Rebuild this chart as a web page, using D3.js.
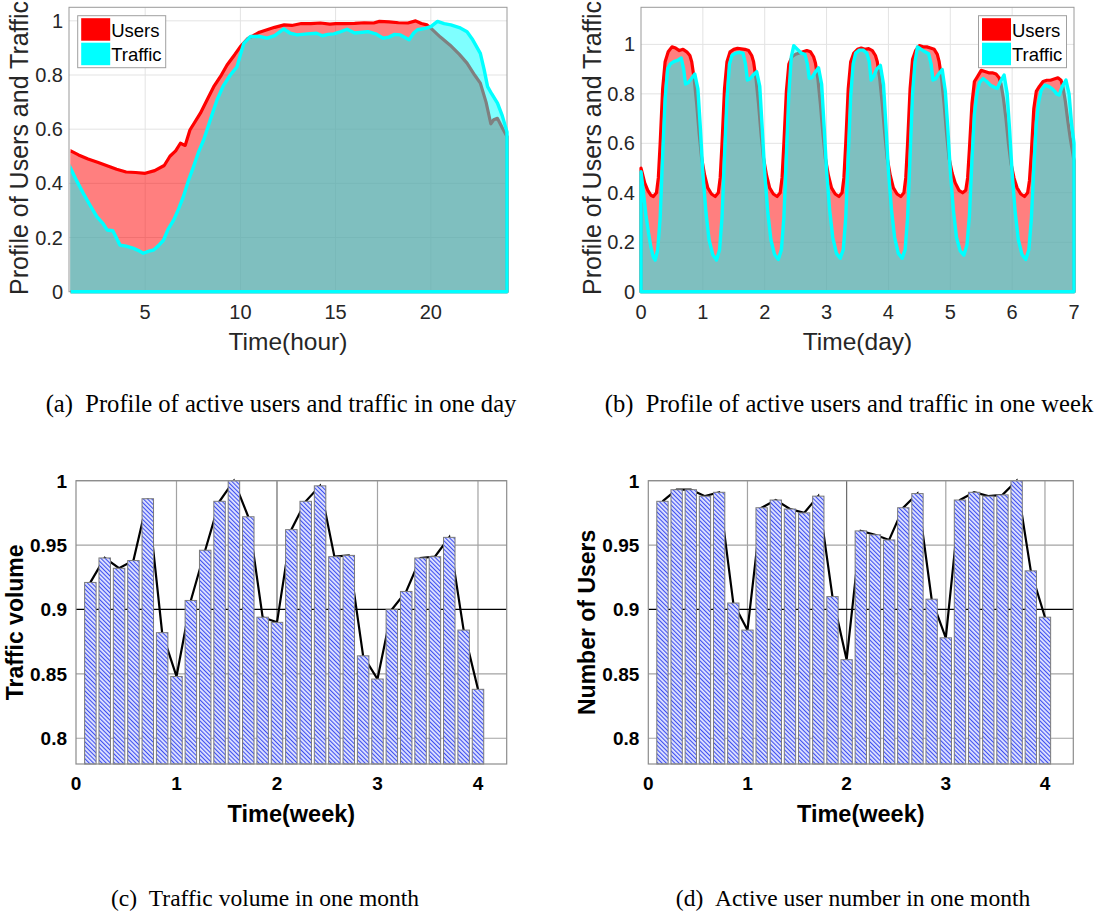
<!DOCTYPE html>
<html lang="en">
<head>
  <meta charset="UTF-8">
  <title>Profile of active users and traffic</title>
  <script src="https://d3js.org/d3.v7.min.js"></script>
  <style>
    html, body {
      margin: 0;
      background: #fff;
    }
    svg {
      display: block;
    }
    .tick-label {
      font-family: "Liberation Sans", Arial, sans-serif;
      fill: #262626;
    }
    .caption {
      font-family: "Liberation Serif", "Times New Roman", serif;
      fill: #000;
    }
  </style>
</head>
<body>
  <div id="figure"></div>

  <script>
    // (a) one day, [hour, value]
    const usersDay = [
      [1, 0.523], [1.5, 0.505], [2, 0.49], [2.5, 0.478], [3, 0.465], [3.5, 0.452], [4, 0.442], [4.5, 0.44],
      [5, 0.437], [5.5, 0.447], [6, 0.466], [6.3, 0.5], [6.6, 0.52], [6.85, 0.548], [7.1, 0.54], [7.35, 0.597],
      [7.9, 0.659], [8.3, 0.715], [8.6, 0.757], [9, 0.8], [9.3, 0.837], [9.7, 0.875], [10, 0.905], [10.4, 0.935],
      [10.7, 0.946], [11, 0.958], [11.4, 0.967], [11.8, 0.976], [12.3, 0.985], [12.7, 0.983], [13.2, 0.99],
      [13.7, 0.99], [14.2, 0.992], [14.7, 0.988], [15, 0.99], [15.5, 0.99], [16, 0.991], [16.5, 0.993], [17, 0.992],
      [17.3, 0.998], [17.8, 0.996], [18.3, 0.993], [18.8, 0.992], [19.2, 1.0], [19.5, 0.99], [19.8, 0.985],
      [20, 0.973], [20.5, 0.94], [21, 0.911], [21.5, 0.876], [21.9, 0.844], [22.3, 0.8], [22.6, 0.77], [22.9, 0.7],
      [23.15, 0.62], [23.3, 0.635], [23.5, 0.64], [23.75, 0.605], [24, 0.573]
    ];
    const trafficDay = [
      [1, 0.468], [1.4, 0.41], [1.75, 0.363], [2.1, 0.32], [2.46, 0.277], [2.8, 0.25], [3, 0.228], [3.3, 0.225],
      [3.68, 0.172], [4, 0.168], [4.39, 0.16], [4.7, 0.15], [4.9, 0.142], [5.2, 0.15], [5.44, 0.154], [5.7, 0.17],
      [5.96, 0.19], [6.2, 0.23], [6.5, 0.265], [6.75, 0.305], [7, 0.35], [7.27, 0.41], [7.54, 0.462], [7.8, 0.515],
      [8.07, 0.56], [8.4, 0.63], [8.77, 0.708], [9.1, 0.76], [9.47, 0.8], [9.82, 0.83], [10, 0.875], [10.18, 0.917],
      [10.53, 0.942], [11, 0.943], [11.4, 0.936], [11.8, 0.945], [12.28, 0.97], [12.6, 0.955], [12.98, 0.948],
      [13.5, 0.952], [14, 0.954], [14.3, 0.945], [14.6, 0.95], [14.9, 0.952], [15.2, 0.958], [15.6, 0.969],
      [16, 0.955], [16.4, 0.958], [16.7, 0.96], [17.1, 0.952], [17.5, 0.936], [17.8, 0.94], [18.1, 0.95],
      [18.4, 0.948], [18.86, 0.93], [19.1, 0.955], [19.3, 0.967], [19.7, 0.972], [20, 0.979], [20.35, 0.998],
      [20.7, 0.99], [21.05, 0.985], [21.5, 0.975], [21.9, 0.96], [22.2, 0.93], [22.6, 0.88], [22.8, 0.82],
      [22.98, 0.757], [23.2, 0.73], [23.5, 0.696], [23.75, 0.65], [24, 0.59]
    ];

    // (b) one week, [day, value]
    const usersWeek = [
      [0.00, 0.50], [0.02, 0.48], [0.06, 0.44], [0.11, 0.41], [0.16, 0.39], [0.20, 0.385], [0.25, 0.40], [0.28, 0.46], [0.31, 0.60], [0.35, 0.82], [0.39, 0.93], [0.44, 0.97], [0.50, 0.99], [0.56, 0.985], [0.62, 0.975], [0.68, 0.98], [0.74, 0.97], [0.79, 0.955], [0.82, 0.93], [0.86, 0.86], [0.90, 0.76], [0.94, 0.64], [0.98, 0.54],
      [1.03, 0.47], [1.08, 0.42], [1.14, 0.395], [1.20, 0.385], [1.25, 0.40], [1.28, 0.46], [1.31, 0.60], [1.35, 0.82], [1.39, 0.93], [1.44, 0.97], [1.50, 0.98], [1.56, 0.984], [1.62, 0.982], [1.68, 0.98], [1.74, 0.975], [1.79, 0.955], [1.82, 0.93], [1.86, 0.86], [1.90, 0.76], [1.94, 0.64], [1.98, 0.54],
      [2.03, 0.47], [2.08, 0.42], [2.14, 0.395], [2.20, 0.385], [2.25, 0.40], [2.28, 0.46], [2.31, 0.60], [2.35, 0.81], [2.39, 0.92], [2.44, 0.95], [2.50, 0.96], [2.56, 0.965], [2.62, 0.97], [2.68, 0.975], [2.74, 0.97], [2.79, 0.95], [2.82, 0.925], [2.86, 0.86], [2.90, 0.76], [2.94, 0.64], [2.98, 0.54],
      [3.03, 0.47], [3.08, 0.42], [3.14, 0.395], [3.20, 0.385], [3.25, 0.40], [3.28, 0.46], [3.31, 0.60], [3.35, 0.82], [3.39, 0.93], [3.44, 0.965], [3.50, 0.98], [3.56, 0.985], [3.62, 0.98], [3.68, 0.983], [3.74, 0.975], [3.79, 0.955], [3.82, 0.93], [3.86, 0.86], [3.90, 0.76], [3.94, 0.64], [3.98, 0.54],
      [4.03, 0.47], [4.08, 0.42], [4.14, 0.395], [4.20, 0.385], [4.25, 0.40], [4.28, 0.46], [4.31, 0.60], [4.35, 0.82], [4.39, 0.94], [4.44, 0.975], [4.50, 0.995], [4.56, 0.99], [4.62, 0.99], [4.68, 0.985], [4.74, 0.98], [4.79, 0.96], [4.82, 0.93], [4.86, 0.86], [4.90, 0.76], [4.94, 0.64], [4.98, 0.54],
      [5.03, 0.48], [5.08, 0.44], [5.14, 0.41], [5.20, 0.40], [5.25, 0.41], [5.28, 0.46], [5.31, 0.58], [5.35, 0.76], [5.39, 0.85], [5.44, 0.87], [5.50, 0.895], [5.56, 0.89], [5.62, 0.885], [5.68, 0.885], [5.74, 0.88], [5.79, 0.865], [5.82, 0.84], [5.86, 0.78], [5.90, 0.70], [5.94, 0.60], [5.98, 0.52],
      [6.03, 0.46], [6.08, 0.42], [6.14, 0.395], [6.20, 0.385], [6.25, 0.40], [6.28, 0.45], [6.31, 0.56], [6.35, 0.74], [6.39, 0.81], [6.44, 0.83], [6.50, 0.85], [6.56, 0.855], [6.62, 0.855], [6.68, 0.86], [6.74, 0.865], [6.79, 0.855], [6.82, 0.83], [6.86, 0.77], [6.90, 0.69], [6.94, 0.62], [6.98, 0.56], [7.00, 0.53]
    ];
    const trafficWeek = [
      [0.00, 0.485], [0.04, 0.40], [0.08, 0.31], [0.12, 0.24], [0.16, 0.18], [0.20, 0.14], [0.23, 0.128], [0.27, 0.17], [0.31, 0.30], [0.35, 0.55], [0.39, 0.78], [0.43, 0.90], [0.47, 0.92], [0.53, 0.93], [0.59, 0.935], [0.65, 0.945], [0.69, 0.90], [0.72, 0.84], [0.76, 0.845], [0.81, 0.86], [0.87, 0.88], [0.92, 0.82], [0.96, 0.66],
      [1.00, 0.48], [1.05, 0.32], [1.10, 0.21], [1.16, 0.15], [1.22, 0.128], [1.27, 0.17], [1.31, 0.30], [1.35, 0.55], [1.39, 0.78], [1.43, 0.92], [1.47, 0.955], [1.53, 0.965], [1.59, 0.968], [1.65, 0.965], [1.69, 0.92], [1.72, 0.856], [1.76, 0.86], [1.81, 0.875], [1.87, 0.89], [1.92, 0.83], [1.96, 0.66],
      [2.00, 0.48], [2.05, 0.32], [2.10, 0.21], [2.16, 0.15], [2.22, 0.13], [2.27, 0.17], [2.31, 0.30], [2.35, 0.55], [2.39, 0.80], [2.43, 0.95], [2.47, 0.995], [2.53, 0.98], [2.59, 0.965], [2.65, 0.96], [2.69, 0.92], [2.72, 0.863], [2.76, 0.865], [2.81, 0.885], [2.87, 0.905], [2.92, 0.84], [2.96, 0.67],
      [3.00, 0.49], [3.05, 0.33], [3.10, 0.22], [3.16, 0.155], [3.22, 0.135], [3.27, 0.17], [3.31, 0.30], [3.35, 0.55], [3.39, 0.79], [3.43, 0.92], [3.47, 0.965], [3.53, 0.977], [3.59, 0.977], [3.65, 0.965], [3.69, 0.93], [3.72, 0.856], [3.76, 0.87], [3.81, 0.90], [3.87, 0.915], [3.92, 0.84], [3.96, 0.67],
      [4.00, 0.49], [4.05, 0.33], [4.10, 0.22], [4.16, 0.155], [4.22, 0.135], [4.27, 0.17], [4.31, 0.30], [4.35, 0.55], [4.39, 0.80], [4.43, 0.93], [4.47, 0.99], [4.53, 0.98], [4.59, 0.97], [4.65, 0.962], [4.69, 0.92], [4.72, 0.856], [4.76, 0.86], [4.81, 0.88], [4.87, 0.898], [4.92, 0.81], [4.96, 0.66],
      [5.00, 0.49], [5.05, 0.33], [5.10, 0.22], [5.16, 0.165], [5.22, 0.148], [5.27, 0.19], [5.31, 0.31], [5.35, 0.53], [5.39, 0.72], [5.43, 0.80], [5.47, 0.845], [5.53, 0.862], [5.59, 0.85], [5.65, 0.835], [5.69, 0.83], [5.72, 0.825], [5.76, 0.822], [5.81, 0.85], [5.87, 0.876], [5.92, 0.80], [5.96, 0.65],
      [6.00, 0.48], [6.05, 0.32], [6.10, 0.21], [6.16, 0.15], [6.22, 0.13], [6.27, 0.17], [6.31, 0.29], [6.35, 0.50], [6.39, 0.68], [6.43, 0.77], [6.47, 0.815], [6.53, 0.835], [6.59, 0.83], [6.65, 0.82], [6.69, 0.81], [6.72, 0.80], [6.76, 0.795], [6.81, 0.83], [6.87, 0.856], [6.92, 0.80], [6.96, 0.68], [7.00, 0.60]
    ];

    // (c), (d) one month: one bar per day, 28 days
    const trafficMonth = [
      0.921, 0.940, 0.932, 0.938, 0.986, 0.882, 0.848,
      0.907, 0.946, 0.984, 1.000, 0.972, 0.894, 0.890,
      0.962, 0.984, 0.996, 0.941, 0.942, 0.864, 0.846,
      0.900, 0.914, 0.940, 0.941, 0.956, 0.884, 0.838
    ];
    const usersMonth = [
      0.984, 0.993, 0.993, 0.988, 0.991, 0.905, 0.884,
      0.979, 0.985, 0.978, 0.975, 0.988, 0.910, 0.861,
      0.961, 0.958, 0.954, 0.979, 0.990, 0.908, 0.878,
      0.985, 0.991, 0.988, 0.989, 1.000, 0.930, 0.894
    ];

    const hourTicks = [5, 10, 15, 20];
    const dayTicks = [0, 1, 2, 3, 4, 5, 6, 7];
    const profileTicks = [0, 0.2, 0.4, 0.6, 0.8, 1];
    const weekTicks = [0, 1, 2, 3, 4];
    const monthTicks = [0.8, 0.85, 0.9, 0.95, 1];
    const legendLabels = ["Users", "Traffic"];

    const svg = d3.select("#figure")
      .append("svg")
      .attr("width", 1099)
      .attr("height", 913);

    svg.append("rect").attr("width", 1099).attr("height", 913).attr("fill", "#fff");

    // hatch used by the bar charts
    const defs = svg.append("defs");
    const hatch = defs.append("pattern")
      .attr("id", "hatch")
      .attr("patternUnits", "userSpaceOnUse")
      .attr("width", 3)
      .attr("height", 3)
      .attr("patternTransform", "rotate(-45)");
    hatch.append("rect").attr("width", 3).attr("height", 3).attr("fill", "#e2e5ff");
    hatch.append("rect").attr("width", 1.1).attr("height", 3).attr("fill", "#3d4ff0");

    function drawProfile(cfg) {
      const g = svg.append("g");
      const x = d3.scaleLinear().domain(cfg.xDomain).range([cfg.left, cfg.right]);
      const y = d3.scaleLinear().domain(cfg.yDomain).range([cfg.bottom, cfg.top]);

      // grid
      g.selectAll(null)
        .data(cfg.xTicks.filter(t => t > cfg.xDomain[0] && t < cfg.xDomain[1]))
        .join("line")
        .attr("x1", d => x(d)).attr("x2", d => x(d))
        .attr("y1", cfg.top).attr("y2", cfg.bottom)
        .attr("stroke", "#e3e3e3");
      g.selectAll(null)
        .data(profileTicks.filter(t => t > 0))
        .join("line")
        .attr("x1", cfg.left).attr("x2", cfg.right)
        .attr("y1", d => y(d)).attr("y2", d => y(d))
        .attr("stroke", "#e3e3e3");

      // box
      g.append("rect")
        .attr("x", cfg.left).attr("y", cfg.top)
        .attr("width", cfg.right - cfg.left).attr("height", cfg.bottom - cfg.top)
        .attr("fill", "none").attr("stroke", "#9a9a9a");

      if (cfg.clipLeft) {
        defs.append("clipPath").attr("id", cfg.id + "-clip")
          .append("rect")
          .attr("x", cfg.left + 1.6).attr("y", 0)
          .attr("width", cfg.right - cfg.left + 10).attr("height", cfg.bottom + 10);
      }
      const plot = g.append("g");
      if (cfg.clipLeft) plot.attr("clip-path", `url(#${cfg.id}-clip)`);

      const area = d3.area()
        .x(d => x(d[0]))
        .y0(y(0))
        .y1(d => y(d[1]));

      plot.append("path")
        .datum(cfg.users)
        .attr("d", area)
        .attr("fill", "rgba(255,0,0,0.5)")
        .attr("stroke", "#ff0000")
        .attr("stroke-width", 3.2)
        .attr("stroke-linejoin", "round");

      plot.append("path")
        .datum(cfg.traffic)
        .attr("d", area)
        .attr("fill", "rgba(0,255,255,0.5)")
        .attr("stroke", "#00ffff")
        .attr("stroke-width", 3.4)
        .attr("stroke-linejoin", "round");

      // tick labels
      g.selectAll(null)
        .data(cfg.xTicks)
        .join("text")
        .attr("class", "tick-label")
        .attr("x", d => x(d))
        .attr("y", cfg.bottom + 27)
        .attr("text-anchor", "middle")
        .style("font-size", "20px")
        .text(d => d);
      g.selectAll(null)
        .data(profileTicks)
        .join("text")
        .attr("class", "tick-label")
        .attr("x", cfg.left - 6)
        .attr("y", d => y(d) + 7)
        .attr("text-anchor", "end")
        .style("font-size", "20px")
        .text(d => d);

      // axis labels
      g.append("text")
        .attr("class", "tick-label")
        .attr("x", (cfg.left + cfg.right) / 2)
        .attr("y", 350)
        .attr("text-anchor", "middle")
        .style("font-size", "24.5px")
        .text(cfg.xLabel);
      g.append("text")
        .attr("class", "tick-label")
        .attr("transform", `translate(${cfg.yLabelX},295) rotate(-90)`)
        .attr("text-anchor", "start")
        .style("font-size", "25px")
        .text("Profile of Users and Traffic");

      // legend
      const lg = g.append("g").attr("transform", `translate(${cfg.legendX},15.7)`);
      lg.append("rect")
        .attr("width", 88).attr("height", 52)
        .attr("fill", "#fff").attr("stroke", "#a0a0a0");
      lg.selectAll(null)
        .data(legendLabels)
        .join("rect")
        .attr("x", 3.5).attr("y", (d, i) => 2.5 + i * 24.5)
        .attr("width", 29).attr("height", 22.5)
        .attr("fill", (d, i) => i === 0 ? "#ff0000" : "#00ffff");
      lg.selectAll(null)
        .data(legendLabels)
        .join("text")
        .attr("x", 33.5).attr("y", (d, i) => 21 + i * 24.5)
        .style("font-family", "'Liberation Sans', Arial, sans-serif")
        .style("font-size", "18.5px")
        .attr("fill", "#000")
        .text(d => d);
    }

    function drawBars(cfg) {
      const g = svg.append("g");
      const x = d3.scaleLinear().domain([0, 30 / 7]).range([cfg.left, cfg.right]);
      const y = d3.scaleLinear().domain([0.78, 1]).range([cfg.bottom, cfg.top]);
      const days = cfg.values.map((v, i) => ({ t: (i + 1) / 7, v: v }));
      const bw = x(0.8 / 7) - x(0);

      // grid
      g.selectAll(null)
        .data(weekTicks.filter(t => t > 0))
        .join("line")
        .attr("x1", d => x(d)).attr("x2", d => x(d))
        .attr("y1", cfg.top).attr("y2", cfg.bottom)
        .attr("stroke", d => d === 2 ? "#6a6a6a" : "#a3a3a3")
        .attr("stroke-width", 1.2);
      g.selectAll(null)
        .data(monthTicks)
        .join("line")
        .attr("x1", cfg.left).attr("x2", cfg.right)
        .attr("y1", d => y(d)).attr("y2", d => y(d))
        .attr("stroke", d => d === 0.9 ? "#000" : "#a3a3a3")
        .attr("stroke-width", 1.2);

      // line through the bar tops, drawn behind the bars
      g.append("path")
        .datum(days)
        .attr("d", d3.line().x(d => x(d.t)).y(d => y(d.v)))
        .attr("fill", "none")
        .attr("stroke", "#000")
        .attr("stroke-width", 2.2);

      g.selectAll(null)
        .data(days)
        .join("rect")
        .attr("x", d => x(d.t) - bw / 2)
        .attr("y", d => y(d.v))
        .attr("width", bw)
        .attr("height", d => cfg.bottom - y(d.v))
        .attr("fill", "url(#hatch)")
        .attr("stroke", "#7a7a7a")
        .attr("stroke-width", 1);

      // frame
      g.append("rect")
        .attr("x", cfg.left).attr("y", cfg.top)
        .attr("width", cfg.right - cfg.left).attr("height", cfg.bottom - cfg.top)
        .attr("fill", "none").attr("stroke", "#8c8c8c").attr("stroke-width", 1.2);

      const bold = "'Liberation Sans', Arial, sans-serif";
      g.selectAll(null)
        .data(weekTicks)
        .join("text")
        .attr("x", d => x(d))
        .attr("y", cfg.bottom + 26)
        .attr("text-anchor", "middle")
        .style("font-family", bold).style("font-weight", "bold").style("font-size", "19px")
        .text(d => d);
      g.selectAll(null)
        .data(monthTicks)
        .join("text")
        .attr("x", cfg.left - 9)
        .attr("y", d => y(d) + 7)
        .attr("text-anchor", "end")
        .style("font-family", bold).style("font-weight", "bold").style("font-size", "19px")
        .text(d => d);

      g.append("text")
        .attr("x", (cfg.left + cfg.right) / 2)
        .attr("y", 822)
        .attr("text-anchor", "middle")
        .style("font-family", bold).style("font-weight", "bold").style("font-size", "23.5px")
        .text("Time(week)");
      g.append("text")
        .attr("transform", `translate(${cfg.yLabelX},${(cfg.top + cfg.bottom) / 2}) rotate(-90)`)
        .attr("text-anchor", "middle")
        .style("font-family", bold).style("font-weight", "bold").style("font-size", "23px")
        .text(cfg.yLabel);
    }

    drawProfile({
      id: "a", left: 69, right: 507, top: 7.3, bottom: 291.7,
      xDomain: [1, 24], yDomain: [0, 1.05], xTicks: hourTicks,
      users: usersDay, traffic: trafficDay, clipLeft: true,
      xLabel: "Time(hour)", yLabelX: 28, legendX: 77.7
    });
    drawProfile({
      id: "b", left: 641, right: 1074, top: 7.3, bottom: 291.7,
      xDomain: [0, 7], yDomain: [0, 1.15], xTicks: dayTicks,
      users: usersWeek, traffic: trafficWeek, clipLeft: false,
      xLabel: "Time(day)", yLabelX: 601, legendX: 978.5
    });
    drawBars({
      left: 76, right: 506.7, top: 480.7, bottom: 764,
      values: trafficMonth, yLabel: "Traffic volume", yLabelX: 23
    });
    drawBars({
      left: 648.3, right: 1073.3, top: 480.7, bottom: 764,
      values: usersMonth, yLabel: "Number of Users", yLabelX: 595
    });

    // sub-captions
    const captions = [
      { text: "(a)\u2002Profile of active users and traffic in one day", x: 281, y: 412, size: 24.6 },
      { text: "(b)\u2002Profile of active users and traffic in one week", x: 849, y: 412, size: 24.6 },
      { text: "(c)\u2002Traffic volume in one month", x: 265, y: 906, size: 23.5 },
      { text: "(d)\u2002Active user number in one month", x: 853, y: 906, size: 23.5 }
    ];
    svg.selectAll("text.caption")
      .data(captions)
      .join("text")
      .attr("class", "caption")
      .attr("x", d => d.x)
      .attr("y", d => d.y)
      .attr("text-anchor", "middle")
      .style("font-size", d => d.size + "px")
      .text(d => d.text);
  </script>
</body>
</html>
